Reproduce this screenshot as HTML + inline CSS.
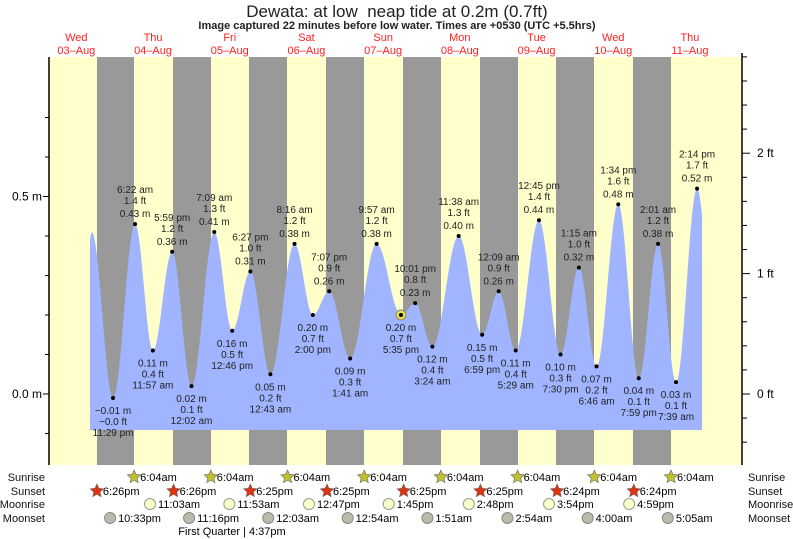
<!DOCTYPE html>
<html><head><meta charset="utf-8"><style>
body{margin:0;background:#fff;}
svg{display:block;font-family:"Liberation Sans",sans-serif;}
</style></head><body>
<svg id="s" width="793" height="539" xmlns="http://www.w3.org/2000/svg"></svg>
<script>
const s=document.getElementById('s');
let h='';
const X0=114.7,DW=76.7,Y0=394,PM=395;
const X=t=>X0+t/24*DW, Y=m=>Y0-m*PM;
h+=`<rect x="49" y="57" width="693" height="408" fill="#ffffcc"/>`;
const nights=[[97,134],[173,211],[249,287],[326,364],[403,441],[480,518],[556,594],[633,671]];
nights.forEach(n=>h+=`<rect x="${n[0]}" y="57" width="${n[1]-n[0]}" height="408" fill="#999999"/>`);
const E=[[-7.7,0.405],[-7.2,0.41],[-0.52,-0.01,'11:29 pm'],[6.37,0.43,'6:22 am'],[11.95,0.11,'11:57 am'],[17.98,0.36,'5:59 pm'],[24.03,0.02,'12:02 am'],[31.15,0.41,'7:09 am'],[36.77,0.16,'12:46 pm'],[42.45,0.31,'6:27 pm'],[48.72,0.05,'12:43 am'],[56.27,0.38,'8:16 am'],[62,0.20,'2:00 pm'],[67.12,0.26,'7:07 pm'],[73.68,0.09,'1:41 am'],[81.95,0.38,'9:57 am'],[89.58,0.20,'5:35 pm'],[94.02,0.23,'10:01 pm'],[99.4,0.12,'3:24 am'],[107.63,0.40,'11:38 am'],[114.98,0.15,'6:59 pm'],[120.15,0.26,'12:09 am'],[125.48,0.11,'5:29 am'],[132.75,0.44,'12:45 pm'],[139.5,0.10,'7:30 pm'],[145.25,0.32,'1:15 am'],[150.77,0.07,'6:46 am'],[157.57,0.48,'1:34 pm'],[163.98,0.04,'7:59 pm'],[170.02,0.38,'2:01 am'],[175.65,0.03,'7:39 am'],[182.23,0.52,'2:14 pm'],[188.5,0.05]];
const ex=E.slice(1);
function val(t){for(let i=0;i<ex.length-1;i++){const a=ex[i],b=ex[i+1];if(t>=a[0]&&t<=b[0]){const f=(t-a[0])/(b[0]-a[0]);return a[1]+(b[1]-a[1])*(1-Math.cos(Math.PI*f))/2;}}return ex[0][1];}
const tE=(702-X0)/DW*24;
let p=`M90,430 L90,${Y(0.39)} L91,${Y(0.405)}`;
for(let x=92;x<=702;x+=1){const t=(x-X0)/DW*24;p+=` L${x},${Y(val(t)).toFixed(1)}`;}
p+=` L702,${Y(val(tE)-0.04).toFixed(1)} L702,430 Z`;
h+=`<path d="${p}" fill="#a0b4ff"/>`;
ex.forEach((e,i)=>{if(!e[2])return;const x=X(e[0]),y=Y(e[1]);const ft=(e[1]/0.3048).toFixed(1).replace(/^-?0\.0$/,e[1]<0?'-0.0':'0.0');const m=e[1].toFixed(2).replace('-','\u2212');
const prev=ex[i-1],hi=e[1]>prev[1];
h+=`<circle cx="${x}" cy="${y}" r="2" fill="#000"/>`;
const T=(yy,tx)=>h+=`<text x="${x}" y="${yy}" font-size="10" text-anchor="middle" fill="#222">${tx}</text>`;
const fts=ft.replace('-','\u2212');
if(hi){T(y-31,e[2]);T(y-20,fts+' ft');T(y-7,m+' m');}else{T(y+16,m+' m');T(y+27,fts+' ft');T(y+38,e[2]);}
});
h+=`<circle cx="${X(89.58)}" cy="${Y(0.2)}" r="5" fill="#e8e040" stroke="#888" stroke-width="1"/><circle cx="${X(89.58)}" cy="${Y(0.2)}" r="2" fill="#000"/>`;
h+=`<line x1="49" y1="57" x2="49" y2="465" stroke="#000" stroke-width="1.5"/><line x1="742" y1="53" x2="742" y2="465" stroke="#000" stroke-width="1.5"/>`;
for(let k=-0.1;k<=0.71;k+=0.1){const y=Y(k);const maj=Math.abs(k)<0.01||Math.abs(k-0.5)<0.01;h+=`<line x1="${maj?43:45}" y1="${y}" x2="49" y2="${y}" stroke="#000"/>`;}
h+=`<text x="42" y="${Y(0)+4}" font-size="12" text-anchor="end">0.0 m</text><text x="42" y="${Y(0.5)+4}" font-size="12" text-anchor="end">0.5 m</text>`;
for(let k=-1.4;k<=2.81;k+=0.2){const y=Y(k*0.3048);if(y<53||y>466)continue;const maj=Math.abs(k-Math.round(k))<0.01;h+=`<line x1="742" y1="${y}" x2="${maj?750:747}" y2="${y}" stroke="#000"/>`;if(maj)h+=`<text x="757" y="${y+4}" font-size="12">${Math.round(k)} ft</text>`;}
h+=`<text x="397" y="17" font-size="17" text-anchor="middle" fill="#222">Dewata: at low\u00a0 neap tide at 0.2m (0.7ft)</text>`;
h+=`<text x="397" y="29" font-size="11" font-weight="bold" text-anchor="middle" fill="#222">Image captured 22 minutes before low water. Times are +0530 (UTC +5.5hrs)</text>`;
const days=['Wed','Thu','Fri','Sat','Sun','Mon','Tue','Wed','Thu'];
days.forEach((d,i)=>{const x=X((i-1)*24+12);h+=`<text x="${x}" y="41" font-size="11" text-anchor="middle" fill="#ff2020">${d}</text><text x="${x}" y="54" font-size="11" text-anchor="middle" fill="#ff2020">${String(3+i).padStart(2,'0')}\u2013Aug</text>`;});
const rows=[['Sunrise',477],['Sunset',491],['Moonrise',504],['Moonset',518]];
rows.forEach(r=>{h+=`<text x="45" y="${r[1]+4}" font-size="11" text-anchor="end" fill="#111">${r[0]}</text><text x="748" y="${r[1]+4}" font-size="11" fill="#111">${r[0]}</text>`;});
function star(cx,cy,fill){let pts=[];for(let i=0;i<10;i++){const a=-Math.PI/2+i*Math.PI/5,r=i%2?3.3:7;pts.push((cx+r*Math.cos(a)).toFixed(1)+','+(cy+r*Math.sin(a)).toFixed(1));}return `<polygon points="${pts.join(' ')}" fill="${fill}" stroke="#666" stroke-width="0.6"/>`;}
for(let d=0;d<8;d++){const x=X(d*24+6.07);h+=star(x,477,'#c0c030')+`<text x="${x+6}" y="481" font-size="11">6:04am</text>`;}
const ss=['6:26pm','6:26pm','6:25pm','6:25pm','6:25pm','6:25pm','6:24pm','6:24pm'];
ss.forEach((t,d)=>{const x=X((d-1)*24+18.43);h+=star(x,491,'#dd3311')+`<text x="${x+6}" y="495" font-size="11">${t}</text>`;});
const mr=[[11.05,'11:03am'],[35.88,'11:53am'],[60.78,'12:47pm'],[85.75,'1:45pm'],[110.8,'2:48pm'],[135.9,'3:54pm'],[160.98,'4:59pm']];
mr.forEach(m=>{const x=X(m[0]);h+=`<circle cx="${x}" cy="504" r="5.5" fill="#ffffcc" stroke="#999"/><text x="${x+8}" y="508" font-size="11">${m[1]}</text>`;});
const ms=[[-1.45,'10:33pm'],[23.27,'11:16pm'],[48.05,'12:03am'],[72.9,'12:54am'],[97.85,'1:51am'],[122.9,'2:54am'],[148,'4:00am'],[173.08,'5:05am']];
ms.forEach(m=>{const x=X(m[0]);h+=`<circle cx="${x}" cy="518" r="5.5" fill="#bbbbaa" stroke="#888"/><text x="${x+8}" y="522" font-size="11">${m[1]}</text>`;});
h+=`<text x="232" y="535" font-size="11" text-anchor="middle">First Quarter | 4:37pm</text>`;
s.innerHTML=h;
</script>
</body></html>
